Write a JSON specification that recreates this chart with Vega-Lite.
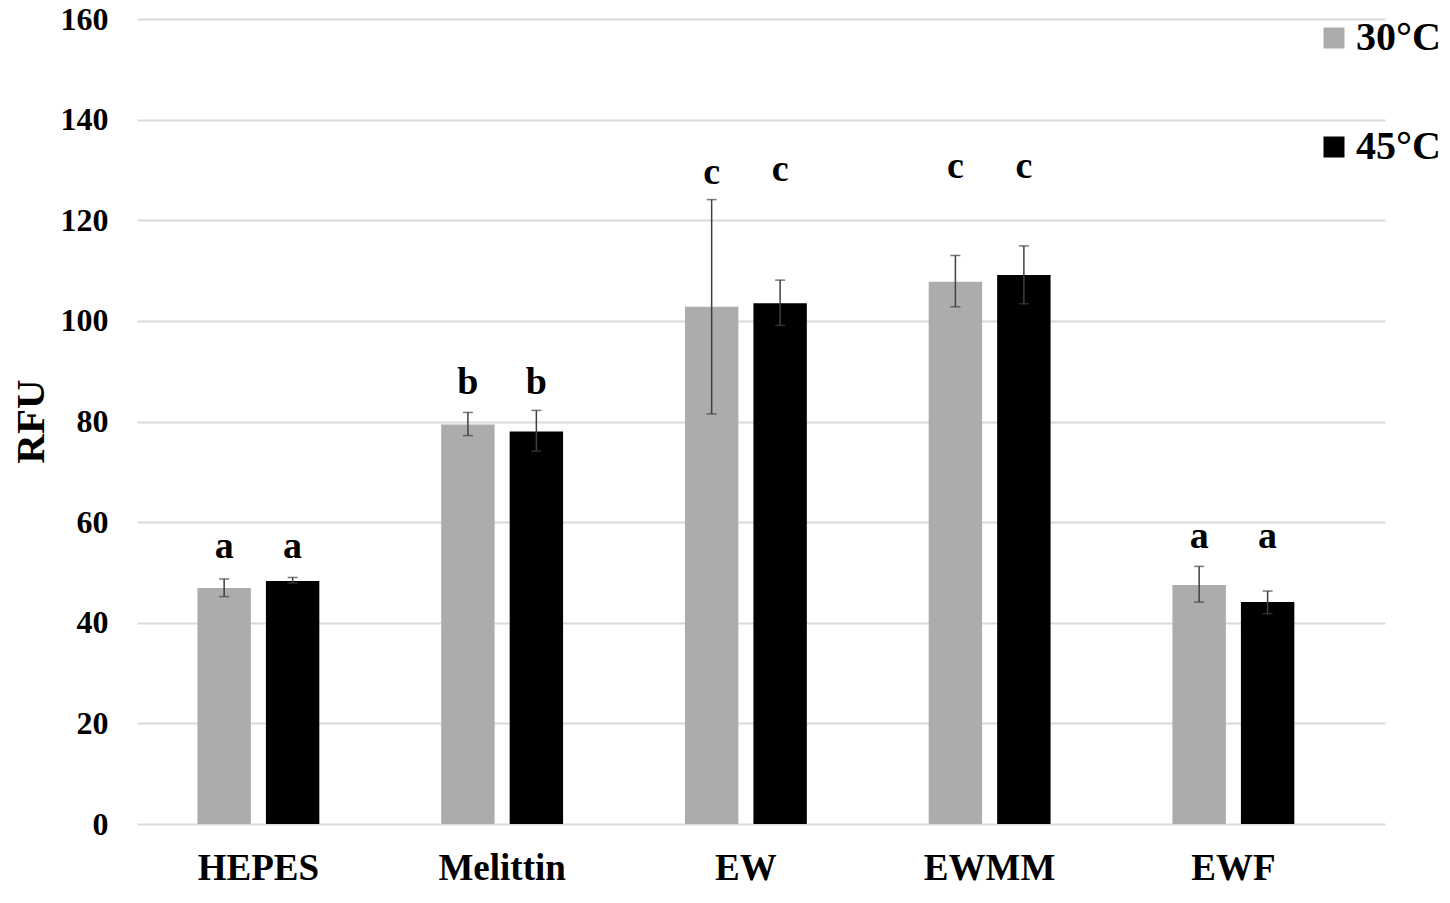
{
  "$schema": "https://vega.github.io/schema/vega-lite/v6.json",
  "width": 1248,
  "height": 805,
  "autosize": {"type": "none"},
  "padding": {"left": 137, "top": 19, "right": 65, "bottom": 79},
  "background": "white",
  "config": {
    "view": {"stroke": null},
    "font": "Liberation Serif",
    "axis": {"labelFont": "Liberation Serif", "titleFont": "Liberation Serif", "labelFontWeight": "bold", "titleFontWeight": "bold", "labelColor": "black", "titleColor": "black"}
  },
  "data": {"values": [
    {"sample": "HEPES", "temp": "30°C", "mean": 46.9, "low": 45.2, "high": 48.7, "sig": "a", "sigY": 52.8},
    {"sample": "HEPES", "temp": "45°C", "mean": 48.3, "low": 47.9, "high": 49.0, "sig": "a", "sigY": 52.8},
    {"sample": "Melittin", "temp": "30°C", "mean": 79.4, "low": 77.2, "high": 81.8, "sig": "b", "sigY": 85.4},
    {"sample": "Melittin", "temp": "45°C", "mean": 78.0, "low": 74.1, "high": 82.2, "sig": "b", "sigY": 85.4},
    {"sample": "EW", "temp": "30°C", "mean": 102.8, "low": 81.5, "high": 124.1, "sig": "c", "sigY": 127.3},
    {"sample": "EW", "temp": "45°C", "mean": 103.5, "low": 99.1, "high": 108.1, "sig": "c", "sigY": 127.9},
    {"sample": "EWMM", "temp": "30°C", "mean": 107.8, "low": 102.8, "high": 113.0, "sig": "c", "sigY": 128.4},
    {"sample": "EWMM", "temp": "45°C", "mean": 109.1, "low": 103.4, "high": 114.9, "sig": "c", "sigY": 128.4},
    {"sample": "EWF", "temp": "30°C", "mean": 47.5, "low": 44.1, "high": 51.2, "sig": "a", "sigY": 54.8},
    {"sample": "EWF", "temp": "45°C", "mean": 44.1, "low": 41.8, "high": 46.3, "sig": "a", "sigY": 54.8}
  ]},
  "encoding": {
    "x": {
      "field": "sample", "type": "nominal", "sort": ["HEPES", "Melittin", "EW", "EWMM", "EWF"],
      "scale": {"paddingInner": 0.5, "paddingOuter": 0.31, "align": 0.4},
      "axis": {"title": null, "labelAngle": 0, "labelFontSize": 37, "labelPadding": 55, "labelBaseline": "alphabetic", "ticks": false, "domain": false, "grid": false}
    },
    "xOffset": {"field": "temp", "type": "nominal", "sort": ["30°C", "45°C"], "scale": {"paddingInner": 0.22, "paddingOuter": 0}}
  },
  "layer": [
    {
      "mark": {"type": "bar"},
      "encoding": {
        "y": {
          "field": "mean", "type": "quantitative",
          "scale": {"domain": [0, 160], "nice": false},
          "axis": {"title": "RFU", "titleFontSize": 41, "titleX": -94, "titleY": 402, "titleBaseline": "alphabetic", "titleAngle": -90, "labelFontSize": 32, "labelPadding": 29, "values": [0, 20, 40, 60, 80, 100, 120, 140, 160], "ticks": false, "domain": false, "grid": true, "gridColor": "#d9d9d9", "gridWidth": 2}
        },
        "color": {
          "field": "temp", "type": "nominal", "sort": ["30°C", "45°C"],
          "scale": {"domain": ["30°C", "45°C"], "range": ["#aeabab", "#000000"]},
          "legend": {"title": null, "orient": "none", "legendX": 1177, "legendY": -1, "direction": "vertical", "symbolType": "square", "symbolSize": 441, "symbolStrokeWidth": 0, "symbolOpacity": 1, "labelFont": "Liberation Serif", "labelFontWeight": "bold", "labelFontSize": 40, "labelColor": "black", "labelOffset": 2, "rowPadding": 69}
        }
      }
    },
    {
      "mark": {"type": "rule", "color": "#404040", "strokeWidth": 1.5},
      "encoding": {"y": {"field": "low", "type": "quantitative"}, "y2": {"field": "high"}}
    },
    {
      "mark": {"type": "tick", "orient": "horizontal", "color": "#404040", "size": 10, "thickness": 1.5},
      "encoding": {"y": {"field": "low", "type": "quantitative"}}
    },
    {
      "mark": {"type": "tick", "orient": "horizontal", "color": "#404040", "size": 10, "thickness": 1.5},
      "encoding": {"y": {"field": "high", "type": "quantitative"}}
    },
    {
      "mark": {"type": "text", "font": "Liberation Serif", "fontWeight": "bold", "fontSize": 38, "baseline": "alphabetic", "color": "black"},
      "encoding": {"y": {"field": "sigY", "type": "quantitative"}, "text": {"field": "sig"}}
    }
  ]
}
